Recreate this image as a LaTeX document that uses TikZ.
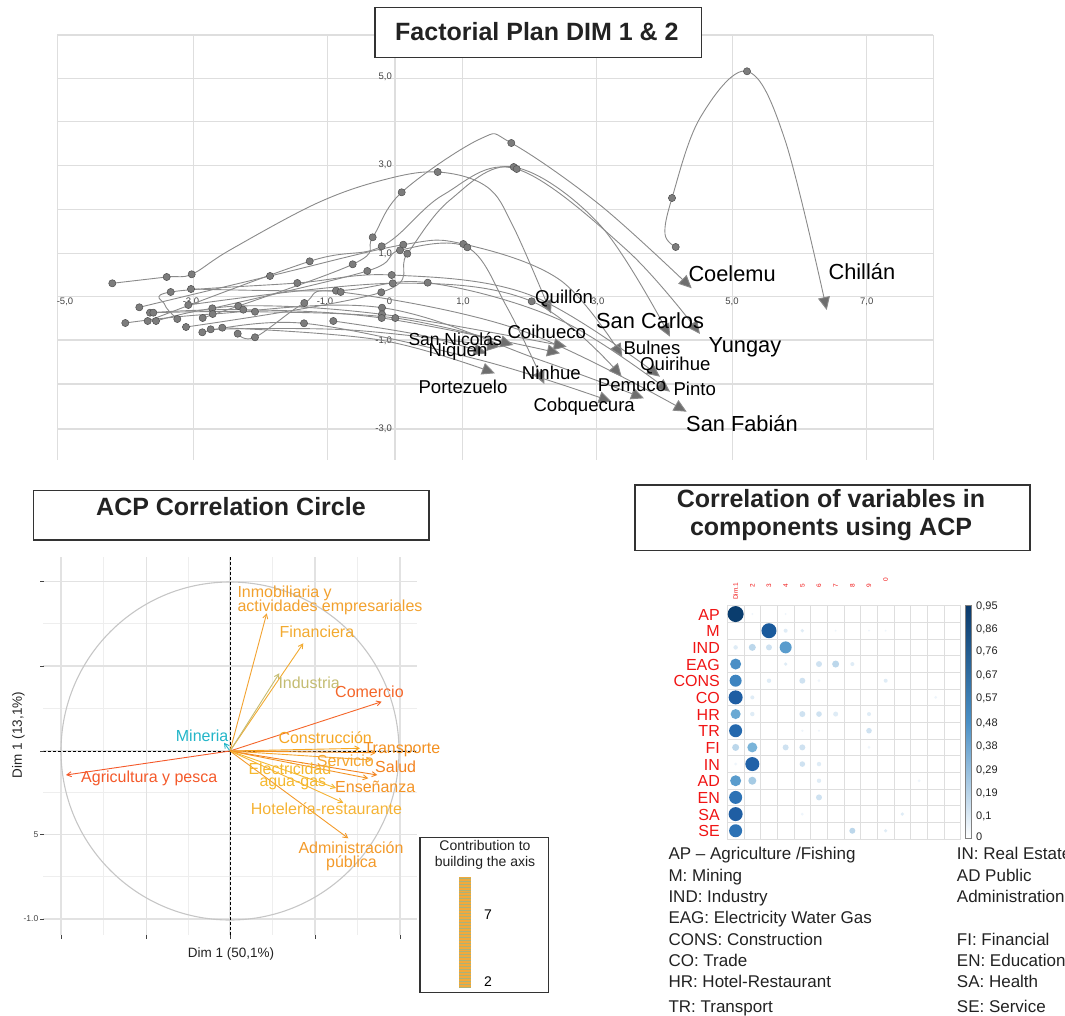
\documentclass[tikz,border=0pt]{standalone}
\usepackage{fontspec}
\setmainfont{Liberation Sans}
\usetikzlibrary{arrows.meta}
\definecolor{gridc}{HTML}{DEDEDE}
\definecolor{trajc}{HTML}{8A8A8A}
\definecolor{arrc}{HTML}{6E6E6E}
\definecolor{dotc}{HTML}{7C7C7C}
\definecolor{dotedge}{HTML}{505050}
\definecolor{boxc}{HTML}{333333}
\definecolor{txt}{HTML}{222222}
\definecolor{axlab}{HTML}{444444}
\definecolor{cgmaj}{HTML}{E2E2E2}
\definecolor{cgmin}{HTML}{EEEEEE}
\definecolor{circc}{HTML}{C6C6C6}
\definecolor{rowred}{HTML}{F01414}
\definecolor{cAP}{HTML}{F4592A}
\definecolor{cMI}{HTML}{22B5C8}
\definecolor{cIN}{HTML}{F2A12E}
\definecolor{cFI}{HTML}{F2AA30}
\definecolor{cIND}{HTML}{C4BC72}
\definecolor{cCO}{HTML}{F4662A}
\definecolor{cCONS}{HTML}{F5A623}
\definecolor{cTR}{HTML}{F39020}
\definecolor{cSE}{HTML}{F5A530}
\definecolor{cSA}{HTML}{F3821F}
\definecolor{cEN}{HTML}{F39324}
\definecolor{cEAG}{HTML}{F5B82E}
\definecolor{cHR}{HTML}{F5B335}
\definecolor{cAD}{HTML}{F39A2A}
\definecolor{cbtop}{HTML}{0B3A6B}
\definecolor{cbmid}{HTML}{4A90C6}
\definecolor{v95}{HTML}{0A3D6E}
\definecolor{v85}{HTML}{1A5A9C}
\definecolor{v80}{HTML}{1F5EA3}
\definecolor{v78}{HTML}{2162A8}
\definecolor{v75}{HTML}{2468AD}
\definecolor{v70}{HTML}{2C72B5}
\definecolor{v60}{HTML}{3D84C0}
\definecolor{v55}{HTML}{4A8FC6}
\definecolor{v50}{HTML}{5A9CCD}
\definecolor{v45}{HTML}{6AA9D3}
\definecolor{v40}{HTML}{7AB4D9}
\definecolor{v30}{HTML}{A6CBE4}
\definecolor{l3}{HTML}{BCD7EB}
\definecolor{l2}{HTML}{CFE2F1}
\definecolor{l1}{HTML}{DFECF6}
\definecolor{vl}{HTML}{EEF5FB}
\definecolor{strO}{HTML}{F2A93B}
\definecolor{strG}{HTML}{A9B27A}
\newcommand\fsz[2]{\fontsize{#1}{#2}\selectfont}
\newcommand\corrdot[4]{\fill[#4] ({727.3+(#1-0.5)*16.67},{605.7+(#2-0.5)*16.67}) circle (#3);}
\begin{document}
\begin{tikzpicture}[x=1pt,y=-1pt,
  grid/.style={draw=gridc, line width=1.4pt},
  traj/.style={draw=trajc, line width=0.9pt, -{Triangle[length=13pt,width=12pt,fill=arrc]}},
  vec/.style={line width=0.9pt, -{Straight Barb[length=4.5pt,width=5pt]}},
  tbox/.style={draw=boxc, line width=1.3pt, fill=white},
  ttl/.style={font=\fsz{25}{30}\bfseries, text=txt},
  big/.style={font=\fsz{21.8}{24}, text=black, inner sep=0pt},
  small/.style={font=\fsz{18.6}{21}, text=black, inner sep=0pt},
  axl/.style={font=\fsz{9.5}{10}, text=axlab, inner sep=0pt},
  cl/.style={font=\fsz{16}{16}, inner sep=0pt, anchor=base west},
  rowl/.style={font=\fsz{16}{16}, text=rowred, inner sep=0pt, anchor=base east},
  leg/.style={font=\fsz{17}{17}, text=txt, inner sep=0pt, anchor=base west},
  cbl/.style={font=\fsz{11}{11}, text=txt, inner sep=0pt, anchor=west}
]
\useasboundingbox (0,0) rectangle (1065,1016);
\clip (0,0) rectangle (1065,1016);

% ================= TOP PLOT =================
\foreach \x in {57.3,193.3,327.7,395,462.3,596.7,732.3,866.7,933.3}
  \draw[grid] (\x,35) -- (\x,460);
\foreach \y in {35,78.3,121.7,165.7,209.3,253.3,296.7,340,384,429}
  \draw[grid] (57.3,\y) -- (933.3,\y);

% axis labels
\node[axl, anchor=east] (y5) at (392,77) {5,0};
\node[axl, anchor=east] (y3) at (392,165) {3,0};
\node[axl, anchor=east] (y1) at (392,253.5) {1,0};
\node[axl, anchor=east] (ym1) at (392,341) {-1,0};
\node[axl, anchor=east] (ym3) at (392,429) {-3,0};
\node[axl] (xm5) at (65,301.5) {-5,0};
\node[axl] (xm3) at (191,301.5) {-3,0};
\node[axl] (xm1) at (325,301.5) {-1,0};
\node[axl] (x0) at (389.5,301.5) {0};
\node[axl] (x1) at (463,301.5) {1,0};
\node[axl] (x3) at (597.7,301.5) {3,0};
\node[axl] (x5) at (732,301.5) {5,0};
\node[axl] (x7) at (866.7,301.5) {7,0};

% trajectories
% Chillan
\draw[traj] plot[smooth,tension=0.6] coordinates {(675.7,247) (665,234) (672,198) (700,118) (747,71.3) (785,140) (826.7,310)};
% Coelemu
\draw[traj] plot[smooth,tension=0.6] coordinates {(202.7,318) (352.7,264.3) (372.7,237.3) (401.7,192.3) (480,139) (511.3,143) (600,205) (691.7,288.3)};
% Quillon
\draw[traj] plot[smooth,tension=0.6] coordinates {(112.3,283.3) (166.7,277) (191.7,274.3) (230,250) (316.7,203.3) (383,180) (437.7,172) (486.7,186.7) (513.3,226.7) (551,313.3)};
% Yungay
\draw[traj] plot[smooth,tension=0.6] coordinates {(147.7,321) (309.7,261.3) (381.7,246.3) (443,195) (516.7,169) (626.7,250) (700,334)};
% San Carlos
\draw[traj] plot[smooth,tension=0.6] coordinates {(186,327) (381.3,292.3) (407.3,253.7) (450,200) (513.7,167) (600,225) (670,336.7)};
% Bulnes
\draw[traj] plot[smooth,tension=0.6] coordinates {(139.3,307.3) (270,276) (403.3,244.7) (463.3,244) (560,280) (622.3,356.7)};
% Ninhue
\draw[traj] plot[smooth,tension=0.6] coordinates {(212.3,308.3) (367.3,271) (400,250.3) (467.3,247.3) (506.7,306.7) (544.3,384)};
% Quirihue
\draw[traj] plot[smooth,tension=0.6] coordinates {(177.3,319) (165,305) (170.7,292) (297.3,283) (391.7,275) (530,295) (660,376.7)};
% Pinto
\draw[traj] plot[smooth,tension=0.6] coordinates {(191,289) (336,290.7) (427.7,282.7) (560,320) (670,391.7)};
% San Fabian
\draw[traj] plot[smooth,tension=0.6] coordinates {(237.7,333.7) (255,337.3) (304.3,303) (340.7,292) (520,330) (686.7,411.7)};
% Pemuco
\draw[traj] plot[smooth,tension=0.6] coordinates {(188.3,305) (392.7,283.3) (531.7,301.3) (621.7,376.7)};
% second arrow near Pemuco
\draw[traj] plot[smooth,tension=0.6] coordinates {(125.3,323) (212.7,314) (382,307.7) (540,360) (644,398.3)};
% Cobquecura
\draw[traj] plot[smooth,tension=0.6] coordinates {(202.3,332.3) (304,323.3) (480,360) (611.7,401.7)};
% Coihueco
\draw[traj] plot[smooth,tension=0.6] coordinates {(156,321) (238.3,306) (382,314.3) (566.7,346.7)};
\draw[traj] plot[smooth,tension=0.6] coordinates {(150,312.7) (243.3,309.7) (381.7,318) (560,353.3)};
% San Nicolas / Niquen
\draw[traj] plot[smooth,tension=0.6] coordinates {(153.3,312.7) (255,311.7) (395.3,318) (513.3,345)};
\draw[traj] plot[smooth,tension=0.6] coordinates {(210.7,329.3) (350,330) (500,346.7)};
\draw[traj] plot[smooth,tension=0.6] coordinates {(333.3,321) (420,335) (486.7,353.3)};
% Portezuelo
\draw[traj] plot[smooth,tension=0.6] coordinates {(222.3,327.7) (380,340) (495,373.3)};

% dots
\foreach \x/\y in {112.3/283.3,166.7/277,191.7/274.3,139.3/307.3,170.7/292,191/289,188.3/305,125.3/323,147.7/321,156/321,150/312.7,153.3/312.7,177.3/319,186/327,202.3/332.3,210.7/329.3,222.3/327.7,237.7/333.7,255/337.3,202.7/318,212.3/308.3,212.7/314,238.3/306,243.3/309.7,255/311.7,270/276,297.3/283,309.7/261.3,304.3/303,304/323.3,333.3/321,336/290.7,340.7/292,352.7/264.3,367.3/271,372.7/237.3,381.7/246.3,403.3/244.7,400/250.3,407.3/253.7,391.7/275,392.7/283.3,381.3/292.3,382/307.7,382/314.3,381.7/318,395.3/318,427.7/282.7,463.3/244,467.3/247.3,531.7/301.3,511.3/143,437.7/172,401.7/192.3,513.7/167,516.7/169,747/71.3,672/198,675.7/247}
  \fill[dotc, draw=dotedge, line width=0.5pt] (\x,\y) circle (3.6);

% place labels
\node[big, anchor=base west] (coelemu) at (688.3,281) {Coelemu};
\node[big, anchor=base west] (chillan) at (828.3,279.3) {Chillán};
\node[small, anchor=base west] (quillon) at (535,303.7) {Quillón};
\node[big, anchor=base west] (sancarlos) at (596,328.3) {San Carlos};
\node[big, anchor=base west] (yungay) at (708.3,352.7) {Yungay};
\node[small, anchor=base west] (bulnes) at (623.3,354) {Bulnes};
\node[small, anchor=base west] (quirihue) at (640,370) {Quirihue};
\node[small, anchor=base west] (pinto) at (673.3,395) {Pinto};
\node[big, anchor=base west] (sanfabian) at (686,431) {San Fabián};
\node[small, anchor=base west] (pemuco) at (597.7,391.7) {Pemuco};
\node[small, anchor=base west] (cobquecura) at (533.3,411.7) {Cobquecura};
\node[small, anchor=base west] (ninhue) at (521.7,379.3) {Ninhue};
\node[small, anchor=base west] (coihueco) at (507.3,338.3) {Coihueco};
\node[font=\fsz{17.5}{20}, inner sep=0pt, anchor=base west] (sannicolas) at (408.3,345) {San Nicolás};
\node[small, anchor=base west] (niquen) at (428.3,356) {Niquen};
\node[small, anchor=base west] (portezuelo) at (418.3,393.3) {Portezuelo};

% title box
\draw[tbox] (375,7.7) rectangle (701.7,57.7);
\node[ttl, anchor=base west, inner sep=0pt] (t1) at (395,40.7) {Factorial Plan DIM 1 \& 2};

% ================= CORRELATION CIRCLE =================
\draw[tbox] (33.3,490.7) rectangle (429,540);
\node[ttl, anchor=base west, inner sep=0pt] (t2) at (96,515) {ACP Correlation Circle};

\foreach \x in {103.8,188.3,272.5,357.5}
  \draw[cgmin, line width=0.9pt] (\x,557) -- (\x,935);
\foreach \y in {623.8,708.5,792.7,876.7}
  \draw[cgmin, line width=0.9pt] (43,\y) -- (417,\y);
\foreach \x in {61,146.7,230,315,400}
  \draw[cgmaj, line width=1.1pt] (\x,557) -- (\x,935);
\foreach \y in {581.7,666,751,834.3,919}
  \draw[cgmaj, line width=1.1pt] (43,\y) -- (417,\y);
\draw[circc, line width=1.1pt] (230,751) circle (169);
\draw[black, line width=0.8pt, dash pattern=on 3pt off 2pt] (230,557) -- (230,935);
\draw[black, line width=0.8pt, dash pattern=on 3pt off 2pt] (43,751) -- (417,751);
\foreach \y in {581.7,666,751,834.3,919}
  \draw[axlab, line width=0.8pt] (40,\y) -- (44,\y);
\foreach \x in {61,146.7,230,315,400}
  \draw[axlab, line width=0.8pt] (\x,935) -- (\x,939);
\node[font=\fsz{8.5}{9}, text=axlab, anchor=east, inner sep=0pt] (yl5) at (38.5,834.5) {5};
\node[font=\fsz{8.5}{9}, text=axlab, anchor=east, inner sep=0pt] (yl10) at (38.5,919) {-1.0};
\node[font=\fsz{13.5}{14}, text=txt, inner sep=0pt] (xlab) at (231,954) {Dim 1 (50,1\%)};
\node[font=\fsz{13.5}{14}, text=txt, inner sep=0pt, rotate=90] (ylab) at (18.3,735) {Dim 1 (13,1\%)};

\coordinate (O) at (230,751);
\draw[vec, cAP] (O) -- (66,775);
\draw[vec, cMI] (O) -- (224,742.7);
\draw[vec, cIN] (O) -- (266.7,613.3);
\draw[vec, cFI] (O) -- (303.3,643.3);
\draw[vec, cIND] (O) -- (279.3,673.3);
\draw[vec, cCO] (O) -- (381.7,701.7);
\draw[vec, cCONS] (O) -- (360,748.3);
\draw[vec, cTR] (O) -- (376,752.7);
\draw[vec, cSE] (O) -- (371.7,760);
\draw[vec, cSA] (O) -- (377.3,775);
\draw[vec, cEN] (O) -- (368.3,778.3);
\draw[vec, cEAG] (O) -- (336,788);
\draw[vec, cHR] (O) -- (343.3,802.7);
\draw[vec, cAD] (O) -- (348.3,838.3);

\node[cl, text=cIN] (linm1) at (237.3,597.3) {Inmobiliaria y};
\node[cl, text=cIN] (linm2) at (237.3,611.7) {actividades empresariales};
\node[cl, text=cFI] (lfin) at (279.3,637.3) {Financiera};
\node[cl, text=cIND] (lind) at (278.3,688.3) {Industria};
\node[cl, text=cCO] (lcom) at (335,697.3) {Comercio};
\node[cl, text=cMI] (lmin) at (175.7,741.7) {Mineria};
\node[cl, text=cCONS] (lcons) at (278.3,743.3) {Construcción};
\node[cl, text=cTR] (ltr) at (363.3,753.3) {Transporte};
\node[cl, text=cSE] (lser) at (316.7,766) {Servicio};
\node[cl, text=cSA] (lsal) at (375,772.3) {Salud};
\node[cl, text=cEAG] (lel1) at (248.3,774) {Electricidad};
\node[cl, text=cEAG] (lel2) at (259.3,786.7) {agua-gas};
\node[cl, text=cEN] (lens) at (335,792.3) {Enseñanza};
\node[cl, text=cAP] (lagr) at (81,782.3) {Agricultura y pesca};
\node[cl, text=cHR] (lhot) at (250.7,814) {Hotelería-restaurante};
\node[cl, text=cAD] (lad1) at (298.3,853.3) {Administración};
\node[cl, text=cAD] (lad2) at (326,867.3) {pública};

% contribution legend
\draw[boxc, line width=1.2pt, fill=white] (420,837.3) rectangle (548.3,992.7);
\node[font=\fsz{14}{16}, text=txt, inner sep=0pt, anchor=base] (cont1) at (485,850.7) {Contribution to};
\node[font=\fsz{14}{16}, text=txt, inner sep=0pt, anchor=base] (cont2) at (485,866.7) {building the axis};
\fill[strO] (459.3,876.7) rectangle (471,988.3);
\foreach \k in {0,...,37}
  \draw[strG, line width=0.6pt] (459.3,{878+\k*2.95}) -- (471,{878+\k*2.95});
\node[font=\fsz{14}{16}, text=black, inner sep=0pt, anchor=base west] (c7) at (484,919.3) {7};
\node[font=\fsz{14}{16}, text=black, inner sep=0pt, anchor=base west] (c2) at (484,986.7) {2};

% ================= CORRPLOT =================
\draw[tbox] (635,485) rectangle (1030,550.7);
\node[ttl, anchor=base, inner sep=0pt] (t3a) at (831,507.3) {Correlation of variables in};
\node[ttl, anchor=base, inner sep=0pt] (t3b) at (831,535) {components using ACP};

\fill[white] (727.3,605.7) rectangle (960.7,839);
\foreach \i in {0,...,14}
  \draw[gridc, line width=0.8pt] ({727.3+\i*16.67},605.7) -- ({727.3+\i*16.67},839);
\foreach \j in {0,...,14}
  \draw[gridc, line width=0.8pt] (727.3,{605.7+\j*16.67}) -- (960.7,{605.7+\j*16.67});

\corrdot{1}{1}{8}{v95}\corrdot{2}{1}{1}{vl}\corrdot{4}{1}{1}{vl}
\corrdot{3}{2}{7.5}{v85}\corrdot{4}{2}{2}{l1}\corrdot{5}{2}{1.8}{l1}\corrdot{7}{2}{1}{vl}\corrdot{9}{2}{1}{vl}\corrdot{10}{2}{1}{vl}
\corrdot{1}{3}{2.2}{l1}\corrdot{2}{3}{3.5}{l3}\corrdot{3}{3}{3}{l2}\corrdot{4}{3}{6}{v50}
\corrdot{1}{4}{5.5}{v55}\corrdot{4}{4}{1.8}{l1}\corrdot{6}{4}{3}{l2}\corrdot{7}{4}{3.5}{l3}\corrdot{8}{4}{2}{l1}
\corrdot{1}{5}{6}{v60}\corrdot{3}{5}{2.2}{l1}\corrdot{5}{5}{3}{l2}\corrdot{6}{5}{1.5}{vl}\corrdot{10}{5}{2}{l1}
\corrdot{1}{6}{7}{v80}\corrdot{2}{6}{2}{l1}\corrdot{13}{6}{1.5}{vl}
\corrdot{1}{7}{5}{v45}\corrdot{2}{7}{2.2}{l1}\corrdot{5}{7}{3}{l2}\corrdot{6}{7}{2.8}{l2}\corrdot{7}{7}{2.5}{l1}\corrdot{9}{7}{2}{l1}
\corrdot{1}{8}{6.5}{v75}\corrdot{9}{8}{2.8}{l2}\corrdot{5}{8}{1.2}{vl}\corrdot{6}{8}{1.2}{vl}
\corrdot{1}{9}{3.5}{l3}\corrdot{2}{9}{5}{v40}\corrdot{4}{9}{3}{l2}\corrdot{5}{9}{3}{l2}\corrdot{9}{9}{1.5}{vl}
\corrdot{1}{10}{1.5}{vl}\corrdot{2}{10}{7}{v78}\corrdot{5}{10}{2.8}{l2}\corrdot{6}{10}{2.2}{l1}
\corrdot{1}{11}{5.5}{v50}\corrdot{2}{11}{4}{v30}\corrdot{6}{11}{2.2}{l1}\corrdot{12}{11}{1.5}{vl}
\corrdot{1}{12}{6.5}{v70}\corrdot{6}{12}{3}{l2}
\corrdot{1}{13}{7}{v80}\corrdot{5}{13}{1.5}{vl}\corrdot{11}{13}{1.8}{l1}
\corrdot{1}{14}{6.5}{v70}\corrdot{8}{14}{3}{l3}\corrdot{10}{14}{1.8}{l1}

\node[rowl] (rAP) at (720,620) {AP};
\node[rowl] (rM) at (720,636.7) {M};
\node[rowl] (rIND) at (720,653.3) {IND};
\node[rowl] (rEAG) at (720,670) {EAG};
\node[rowl] (rCONS) at (720,686.7) {CONS};
\node[rowl] (rCO) at (720,703.3) {CO};
\node[rowl] (rHR) at (720,720) {HR};
\node[rowl] (rTR) at (720,736.7) {TR};
\node[rowl] (rFI) at (720,753.3) {FI};
\node[rowl] (rIN) at (720,770) {IN};
\node[rowl] (rAD) at (720,786.7) {AD};
\node[rowl] (rEN) at (720,803.3) {EN};
\node[rowl] (rSA) at (720,820) {SA};
\node[rowl] (rSE) at (720,836.7) {SE};

\node[rotate=90, anchor=west, text=rowred, font=\fsz{6.5}{7}, inner sep=0pt] (cd1) at (735.6,600) {Dim.1};
\foreach \k in {2,...,9}
  \node[rotate=90, anchor=west, text=rowred, font=\fsz{6.5}{7}, inner sep=0pt] at ({727.3+(\k-0.5)*16.67},587.5) {\k};
\node[rotate=90, anchor=west, text=rowred, font=\fsz{6.5}{7}, inner sep=0pt] (cd0) at (885.6,582) {0};

\shade[top color=cbtop, bottom color=white, middle color=cbmid] (965,605) rectangle (971.7,838.3);
\draw[gray, line width=0.6pt] (965,605) rectangle (971.7,838.3);
\node[cbl] (cb1) at (976,606.7) {0,95};
\node[cbl] (cb2) at (976,629.3) {0,86};
\node[cbl] (cb3) at (976,651.7) {0,76};
\node[cbl] (cb4) at (976,675) {0,67};
\node[cbl] (cb5) at (976,698.3) {0,57};
\node[cbl] (cb6) at (976,723.3) {0,48};
\node[cbl] (cb7) at (976,746) {0,38};
\node[cbl] (cb8) at (976,770) {0,29};
\node[cbl] (cb9) at (976,793.3) {0,19};
\node[cbl] (cb10) at (976,816.7) {0,1};
\node[cbl] (cb11) at (976,836.7) {0};

% legend text
\node[leg] (g1) at (668.3,859.3) {AP – Agriculture /Fishing};
\node[leg] (g2) at (668.3,881) {M: Mining};
\node[leg] (g3) at (668.3,902.7) {IND: Industry};
\node[leg] (g4) at (668.3,923.3) {EAG: Electricity Water Gas};
\node[leg] (g5) at (668.3,945) {CONS: Construction};
\node[leg] (g6) at (668.3,966.7) {CO: Trade};
\node[leg] (g7) at (668.3,987.3) {HR: Hotel-Restaurant};
\node[leg] (g8) at (668.3,1012.7) {TR: Transport};
\node[leg] (h1) at (956.7,859.3) {IN: Real Estate};
\node[leg] (h2) at (956.7,881) {AD Public};
\node[leg] (h3) at (956.7,902.7) {Administration};
\node[leg] (h5) at (956.7,945) {FI: Financial};
\node[leg] (h6) at (956.7,966.7) {EN: Education};
\node[leg] (h7) at (956.7,987.3) {SA: Health};
\node[leg] (h8) at (956.7,1012.7) {SE: Service};
\end{tikzpicture}
\end{document}
